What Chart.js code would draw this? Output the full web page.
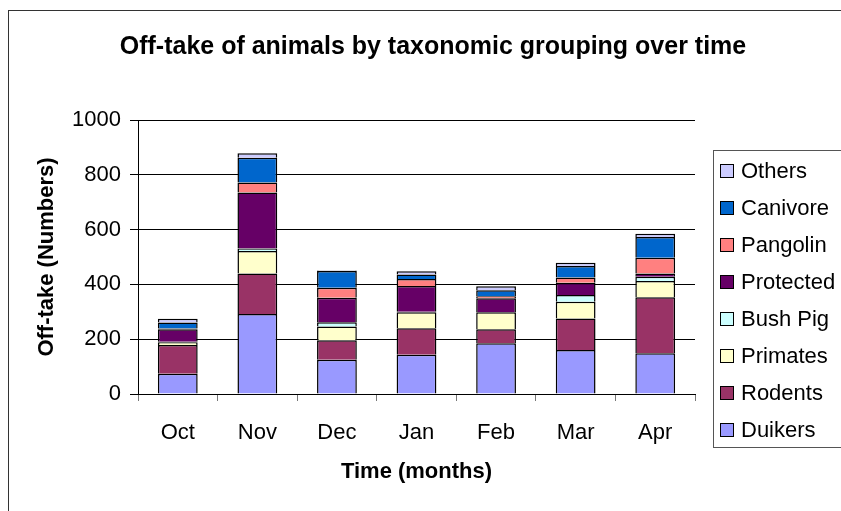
<!DOCTYPE html>
<html>
<head>
<meta charset="utf-8">
<script src="https://cdn.jsdelivr.net/npm/chart.js@4"></script>
<style>
  html, body { margin: 0; padding: 0; background: #fff; overflow: hidden; }
  #wrap { position: relative; width: 841px; height: 511px; overflow: hidden; }
  #frame { position: absolute; left: 8px; top: 10px; width: 900px; height: 600px; border-left: 1px solid #333; border-top: 1px solid #333; }
  canvas { position: absolute; left: 0; top: 0; }
  #title { position: absolute; left: 0; top: 31px; width: 866px; text-align: center; font: bold 25px "Liberation Sans", Arial, sans-serif; color: #000; white-space: nowrap; }
  #legend { position: absolute; left: 713px; top: 150px; width: 140px; height: 298px; border: 1px solid #555; box-sizing: border-box;
    font-family: "Liberation Sans", Arial, sans-serif; font-size: 22px; color: #000; padding-top: 1px; }
  .item { display: flex; align-items: center; height: 37px; padding-left: 6px; white-space: nowrap; }
  .sw { width: 12px; height: 12px; border: 1.5px solid #000; margin-right: 7px; flex: none; }
</style>
</head>
<body>
<div id="wrap">
  <div id="frame"></div>
  <canvas id="c" width="841" height="511"></canvas>
  <div id="title">Off-take of animals by taxonomic grouping over time</div>
  <div id="legend"></div>
</div>
<script>
const months = ['Oct', 'Nov', 'Dec', 'Jan', 'Feb', 'Mar', 'Apr'];
const duikers   = [74, 292, 125, 143, 185, 161, 149];
const rodents   = [105, 148, 71, 97, 51, 115, 204];
const primates  = [10, 82, 50, 58, 62, 61, 59];
const bushPig   = [2, 9, 16, 2, 0, 24, 16];
const protectedSp = [45, 204, 89, 94, 51, 45, 12];
const pangolin  = [3, 37, 37, 26, 8, 19, 57];
const canivore  = [22, 90, 61, 16, 22, 42, 76];
const others    = [14, 17, 2, 12, 14, 12, 12];
const yTicks    = [0, 200, 400, 600, 800, 1000];

const series = [
  { label: 'Duikers', data: duikers, color: '#9999FF' },
  { label: 'Rodents', data: rodents, color: '#993366' },
  { label: 'Primates', data: primates, color: '#FFFFCC' },
  { label: 'Bush Pig', data: bushPig, color: '#CCFFFF' },
  { label: 'Protected', data: protectedSp, color: '#660066' },
  { label: 'Pangolin', data: pangolin, color: '#FF8080' },
  { label: 'Canivore', data: canivore, color: '#0066CC' },
  { label: 'Others', data: others, color: '#CCCCFF' }
];

const FONT = '"Liberation Sans", Arial, sans-serif';
Chart.defaults.font.family = FONT;
Chart.defaults.color = '#000';

new Chart(document.getElementById('c'), {
  type: 'bar',
  data: {
    labels: months,
    datasets: series.map(s => ({
      label: s.label, data: s.data, backgroundColor: s.color,
      borderColor: '#000', borderWidth: 1.5,
      barPercentage: 0.5, categoryPercentage: 1
    }))
  },
  options: {
    responsive: false, animation: false,
    layout: { padding: { left: 0, right: 146, top: 120, bottom: 0 } },
    plugins: {
      legend: { display: false },
      tooltip: { enabled: false },
      title: { display: false }
    },
    scales: {
      x: {
        stacked: true,
        afterFit: s => { s.height = 117; },
        border: { color: '#000', width: 1 },
        grid: { offset: true, drawOnChartArea: false, drawTicks: true, tickLength: 7, color: '#777' },
        ticks: { font: { size: 22 }, padding: 19 },
        title: { display: true, text: 'Time (months)', font: { size: 22, weight: 'bold' }, padding: { top: 0, bottom: 26 } }
      },
      y: {
        stacked: true, min: 0, max: 1000,
        afterFit: s => { s.width = 138; },
        afterBuildTicks: s => { s.ticks = yTicks.map(v => ({ value: v })); },
        border: { color: '#000', width: 1 },
        grid: { color: '#000', lineWidth: 1, tickLength: 8 },
        ticks: { font: { size: 22 }, padding: 9, callback: v => String(v) },
        title: { display: true, text: 'Off-take (Numbers)', font: { size: 22, weight: 'bold' }, padding: { top: 34, bottom: 0 } }
      }
    }
  }
});

const lg = document.getElementById('legend');
series.slice().reverse().forEach(s => {
  const row = document.createElement('div');
  row.className = 'item';
  const sw = document.createElement('span');
  sw.className = 'sw';
  sw.style.background = s.color;
  const tx = document.createElement('span');
  tx.textContent = s.label;
  row.appendChild(sw); row.appendChild(tx);
  lg.appendChild(row);
});
</script>
</body>
</html>
